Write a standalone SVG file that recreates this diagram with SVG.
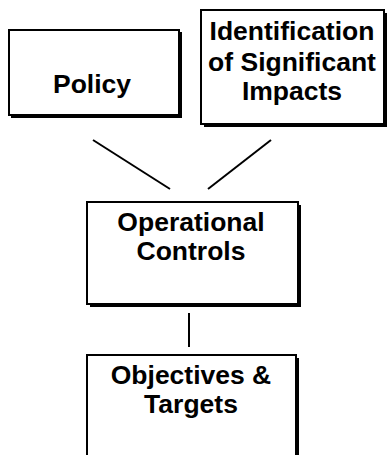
<svg xmlns="http://www.w3.org/2000/svg" width="388" height="455" viewBox="0 0 388 455">
<style>
.shadow{fill:#000}
.box{fill:#fff;stroke:#000;stroke-width:2}
.lbl{font-family:"Liberation Sans",Arial,sans-serif;font-weight:bold;font-size:26.5px;fill:#000;text-anchor:middle}
.conn{stroke:#000;stroke-width:2;fill:none}
</style>
<rect width="388" height="455" fill="#fff"/>
<g id="connectors">
<line class="conn" x1="93" y1="140" x2="170" y2="189"/>
<line class="conn" x1="271" y1="140" x2="208" y2="189"/>
<line class="conn" x1="189" y1="313" x2="189" y2="347"/>
</g>
<g id="policy">
<rect class="shadow" x="11" y="32" width="171" height="86"/>
<rect class="box" x="9" y="30" width="170" height="85"/>
<text class="lbl" x="92" y="93">Policy</text>
</g>
<g id="impacts">
<rect class="shadow" x="204" y="13" width="183" height="114"/>
<rect class="box" x="201" y="10" width="183" height="114"/>
<text class="lbl" x="292" y="40">Identification</text>
<text class="lbl" x="292" y="71">of Significant</text>
<text class="lbl" x="292" y="100">Impacts</text>
</g>
<g id="operational">
<rect class="shadow" x="90" y="205" width="211" height="102"/>
<rect class="box" x="87" y="202" width="211" height="102"/>
<text class="lbl" x="191" y="231">Operational</text>
<text class="lbl" x="191" y="260">Controls</text>
</g>
<g id="objectives">
<rect class="shadow" x="90" y="358" width="209" height="110"/>
<rect class="box" x="87" y="355" width="209" height="110"/>
<text class="lbl" x="191" y="384">Objectives &amp;</text>
<text class="lbl" x="191" y="413">Targets</text>
</g>
</svg>
